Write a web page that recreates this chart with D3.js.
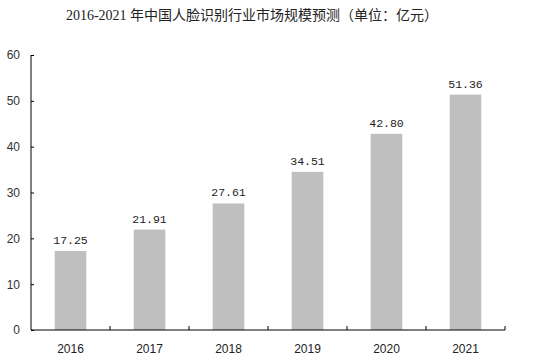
<!DOCTYPE html>
<html>
<head>
<meta charset="utf-8">
<script src="https://cdn.jsdelivr.net/npm/d3@7"></script>
<style>
  body { margin: 0; background: #fff; }
</style>
</head>
<body>
<svg width="536" height="364"></svg>
<script>
var years = ["2016", "2017", "2018", "2019", "2020", "2021"];
var values = [17.25, 21.91, 27.61, 34.51, 42.80, 51.36];
var valueLabels = ["17.25", "21.91", "27.61", "34.51", "42.80", "51.36"];
var yTicks = [0, 10, 20, 30, 40, 50, 60];

var svg = d3.select("svg");
// note: "top" is reserved on window, so use plotTop etc.
var plotLeft = 31, plotRight = 505, plotTop = 55, plotBottom = 330;

var xScale = d3.scaleBand().domain(years).range([plotLeft, plotRight]).paddingInner(0.6).paddingOuter(0.3);
var yScale = d3.scaleLinear().domain([0, 60]).range([plotBottom, plotTop]);

// title
var title = svg.append("text")
  .attr("x", 252)
  .attr("y", 20)
  .attr("text-anchor", "middle")
  .style("font-size", "14px")
  .style("fill", "#222");
title.append("tspan")
  .style("font-family", "'Liberation Serif', serif")
  .text("2016-2021 ");
title.append("tspan")
  .style("font-family", "'Noto Sans CJK SC', sans-serif")
  .text("年中国人脸识别行业市场规模预测（单位：亿元）");

// bars
svg.append("g")
  .selectAll("rect")
  .data(values)
  .enter()
  .append("rect")
  .attr("x", function (d, i) { return xScale(years[i]); })
  .attr("y", function (d) { return yScale(d); })
  .attr("width", xScale.bandwidth())
  .attr("height", function (d) { return plotBottom - yScale(d); })
  .style("fill", "#bfbfbf");

// value labels
svg.append("g")
  .selectAll("text")
  .data(values)
  .enter()
  .append("text")
  .attr("x", function (d, i) { return xScale(years[i]) + xScale.bandwidth() / 2; })
  .attr("y", function (d) { return yScale(d) - 7; })
  .attr("text-anchor", "middle")
  .style("font-family", "'Liberation Mono', monospace")
  .style("font-size", "11.5px")
  .style("fill", "#222")
  .text(function (d, i) { return valueLabels[i]; });

// y axis
var yAxis = svg.append("g")
  .attr("transform", "translate(" + plotLeft + ",0)")
  .call(d3.axisLeft(yScale).tickValues(yTicks).tickSize(-3).tickPadding(11).tickFormat(d3.format("d")));
yAxis.select(".domain").attr("d", "M0," + plotTop + "V" + plotBottom);
yAxis.selectAll("text")
  .style("font-family", "'Liberation Sans', sans-serif")
  .style("font-size", "12px")
  .style("fill", "#333");

// x axis
var xBoundaries = d3.range(years.length + 1).map(function (i) { return plotLeft + i * (plotRight - plotLeft) / years.length; });
svg.append("line")
  .attr("x1", plotLeft).attr("x2", plotRight)
  .attr("y1", plotBottom).attr("y2", plotBottom)
  .style("stroke", "#000");
svg.append("g")
  .selectAll("line")
  .data(xBoundaries.slice(1))
  .enter()
  .append("line")
  .attr("x1", function (d) { return d; })
  .attr("x2", function (d) { return d; })
  .attr("y1", plotBottom)
  .attr("y2", plotBottom - 4)
  .style("stroke", "#000");
svg.append("g")
  .selectAll("text")
  .data(years)
  .enter()
  .append("text")
  .attr("x", function (d) { return xScale(d) + xScale.bandwidth() / 2; })
  .attr("y", 353)
  .attr("text-anchor", "middle")
  .style("font-family", "'Liberation Sans', sans-serif")
  .style("font-size", "12px")
  .style("fill", "#222")
  .text(function (d) { return d; });
</script>
</body>
</html>
